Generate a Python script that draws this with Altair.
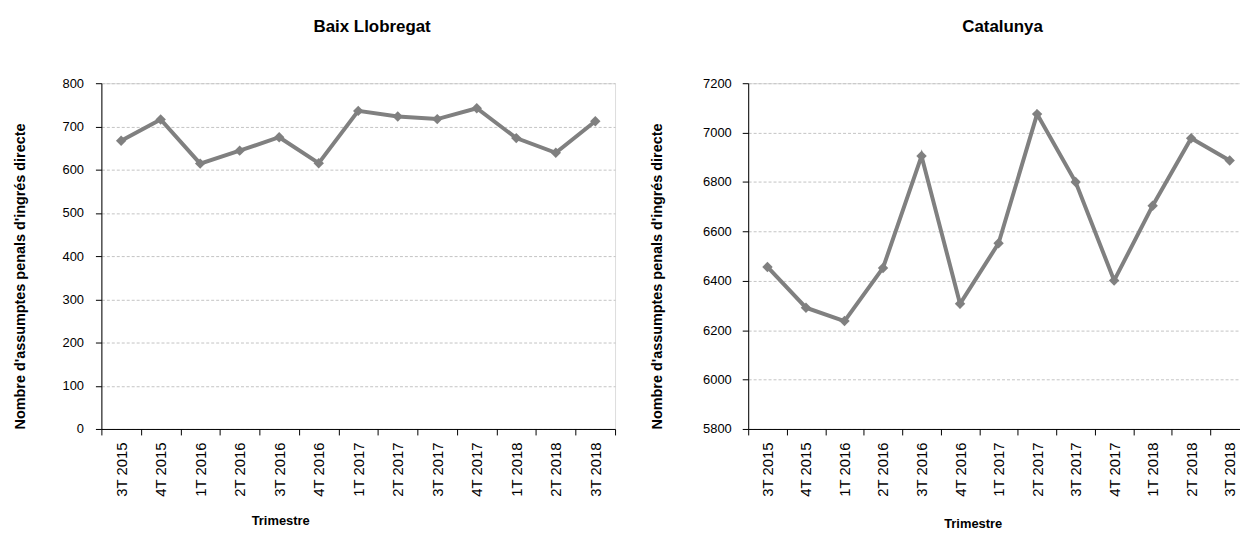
import altair as alt
import pandas as pd

quarters = ["3T 2015", "4T 2015", "1T 2016", "2T 2016", "3T 2016", "4T 2016",
            "1T 2017", "2T 2017", "3T 2017", "4T 2017", "1T 2018", "2T 2018", "3T 2018"]
baix_llobregat = [667, 716, 614, 644, 675, 615, 736, 723, 717, 742, 673, 639, 712]
catalunya = [6456, 6291, 6237, 6452, 6905, 6307, 6552, 7075, 6800, 6401, 6704, 6977, 6887]

baix_ticks = [0, 100, 200, 300, 400, 500, 600, 700, 800]
cat_ticks = [5800, 6000, 6200, 6400, 6600, 6800, 7000, 7200]

FONT = "Liberation Sans"
YTITLE = "Nombre d'assumptes penals d'ingrés directe"
GREY = "#808080"


def panel(values, name, ticks, width, ytitle_x, xtitle_x, xtitle_y, label_pad, title_dx):
    df = pd.DataFrame({"Trimestre": quarters, "valor": values})
    x = alt.X(
        "Trimestre:N",
        sort=quarters,
        scale=alt.Scale(type="band", paddingInner=0, paddingOuter=0),
        axis=alt.Axis(
            title="Trimestre", labelAngle=-90, tickBand="extent", grid=False,
            domainColor="black", tickColor="black", tickSize=6, labelPadding=7,
            labelFontSize=15, labelFont=FONT, labelColor="black",
            titleFont=FONT, titleFontSize=13, titleFontWeight="bold", titleColor="black",
            titleX=xtitle_x, titleY=xtitle_y, titleBaseline="middle", titleAlign="center",
        ),
    )
    y = alt.Y(
        "valor:Q",
        scale=alt.Scale(domain=[ticks[0], ticks[-1]], nice=False, zero=False),
        axis=alt.Axis(
            title=YTITLE, values=ticks, format="d", grid=True, gridDash=[3, 2], gridColor="#c4c4c4",
            domainColor="black", tickColor="black", tickSize=6, labelPadding=label_pad,
            labelFontSize=13, labelFont=FONT, labelColor="black",
            titleFont=FONT, titleFontSize=14.5, titleFontWeight="bold", titleColor="black",
            titleAngle=-90, titleX=ytitle_x, titleY=194, titleBaseline="middle", titleAlign="center",
        ),
    )
    return (
        alt.Chart(df, title=alt.Title(name, font=FONT, fontSize=17, fontWeight="bold",
                                      color="black", offset=42, anchor="middle", dx=title_dx))
        .mark_line(color=GREY, strokeWidth=4,
                   point=alt.OverlayMarkDef(shape="diamond", size=110, color=GREY, filled=True, opacity=1))
        .encode(x=x, y=y)
        .properties(width=width, height=348)
    )


left = panel(baix_llobregat, "Baix Llobregat", baix_ticks, 517, -81, 180, 92, 12, 14)
right = panel(catalunya, "Catalunya", cat_ticks, 504, -91, 226, 95, 11, 4)

chart = (
    alt.hconcat(left, right, spacing=134, bounds="flush")
    .properties(padding={"left": 4, "top": 7, "right": -10, "bottom": 0})
    .configure_view(stroke="#8c8c8c", strokeWidth=1)
    .configure(background="white")
)

chart.save("out.html", embed_options={"renderer": "svg", "actions": False})
